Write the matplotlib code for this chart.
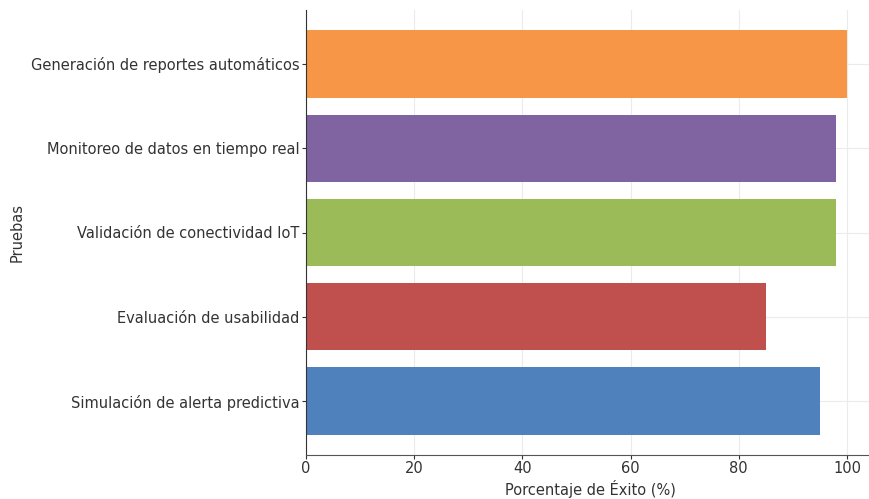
import matplotlib
matplotlib.use('Agg')
import matplotlib.pyplot as plt

pruebas = ['Simulación de alerta predictiva', 'Evaluación de usabilidad',
           'Validación de conectividad IoT', 'Monitoreo de datos en tiempo real',
           'Generación de reportes automáticos']
exito = [95, 85, 98, 98, 100]
colores = ['#4F81BD', '#C0504D', '#9BBB59', '#8064A2', '#F79646']

fig = plt.figure(figsize=(8.7, 4.99), dpi=100)
ax = fig.add_axes([306/870, 44/499, 568/870, 445/499])

ax.barh(pruebas, exito, color=colores, height=0.8, zorder=2)
ax.set_xlim(0, 105)
ax.set_xticks([0, 20, 40, 60, 80, 100])
ax.grid(True, color='#ebebeb', linewidth=0.8, zorder=0)
ax.set_axisbelow(True)

for s in ['top', 'right']:
    ax.spines[s].set_visible(False)
ax.spines['left'].set_color('#333333')
ax.spines['bottom'].set_color('#555555')
ax.tick_params(colors='#333333', labelsize=10.5, length=3, pad=1.5)

ax.set_xlabel('Porcentaje de Éxito (%)', fontsize=10.5, color='#333333')
ax.set_ylabel('Pruebas', fontsize=10.5, color='#333333')
ax.xaxis.set_label_coords(0.5, -0.057)
ax.yaxis.set_label_coords(-0.495, 0.5)

fig.savefig('out.png', dpi=100)
